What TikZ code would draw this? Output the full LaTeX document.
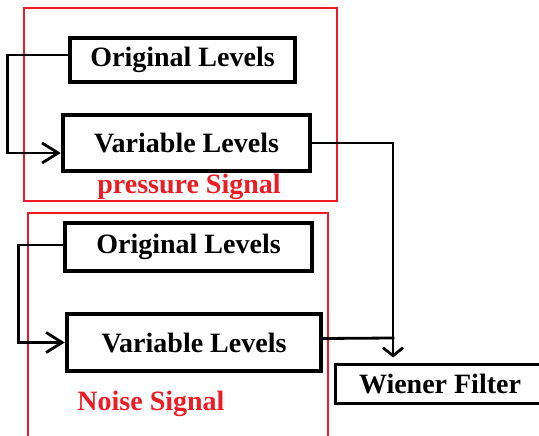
\documentclass[tikz,border=0pt]{standalone}
\usepackage{fontspec}
\setmainfont{Liberation Serif}
\usetikzlibrary{arrows.meta,positioning,calc}
\definecolor{paintred}{HTML}{ED1C24}

\begin{document}
\begin{tikzpicture}[
  x=1pt, y=-1pt,
  font=\fontsize{28}{30}\selectfont\bfseries,
  level/.style={draw, line width=4.5pt, inner sep=0pt},
  filterbox/.style={draw, line width=3pt, inner sep=0pt},
  frame/.style={draw=paintred, line width=2pt, inner sep=0pt},
  tag/.style={text=paintred, inner sep=0pt},
  link/.style={line width=2.8pt, line cap=rect},
  feed/.style={link, -{Straight Barb[length=16pt, width=20pt, line width=2.8pt]}},
  down/.style={link, -{Straight Barb[length=8pt, width=20pt, line width=2.8pt]}},
]
  \useasboundingbox (0,0) rectangle (539,436);
  \clip (0,0) rectangle (539,436);
  % --- signal frames ---
  \node[frame, minimum width=313pt, minimum height=192pt] (pframe) at (180,104.5) {};
  \node[frame, minimum width=300pt, minimum height=230pt] (nframe) at (177.5,328) {};
  \node[tag] (ptag) at (189,187) {pressure Signal};
  \node[tag] (ntag) at (151,404) {Noise Signal};
  % --- level blocks ---
  \node[level, minimum width=225pt, minimum height=44pt] (orig1) at (182.5,60) {Original Levels};
  \node[level, minimum width=247pt, minimum height=56pt] (var1) at (186.5,143) {Variable Levels};
  \node[level, minimum width=247pt, minimum height=48pt] (orig2) at (188.5,247) {Original Levels};
  \node[level, minimum width=254pt, minimum height=57pt] (var2) at (194,342.5) {Variable Levels};
  \node[filterbox, minimum width=209pt, minimum height=39pt] (wiener) at (440,383.5) {Wiener Filter};
  % --- feed-back from original to variable levels ---
  \draw[feed] ([yshift=5pt]orig1.west) -- ++(-60,0) |- ([yshift=-10pt]var1.west);
  \draw[feed] ([yshift=2pt]orig2.west) -- ++(-44,0) |- (var2.west);
  % --- both signals into the filter ---
  \coordinate (merge) at (393,338);
  \draw[link] (var1.east) -| (merge);
  \draw[link] ([yshift=4pt]var2.east) -- (merge);
  \draw[down, shorten >=5pt] (merge) -- (merge |- wiener.north);
\end{tikzpicture}
\end{document}
